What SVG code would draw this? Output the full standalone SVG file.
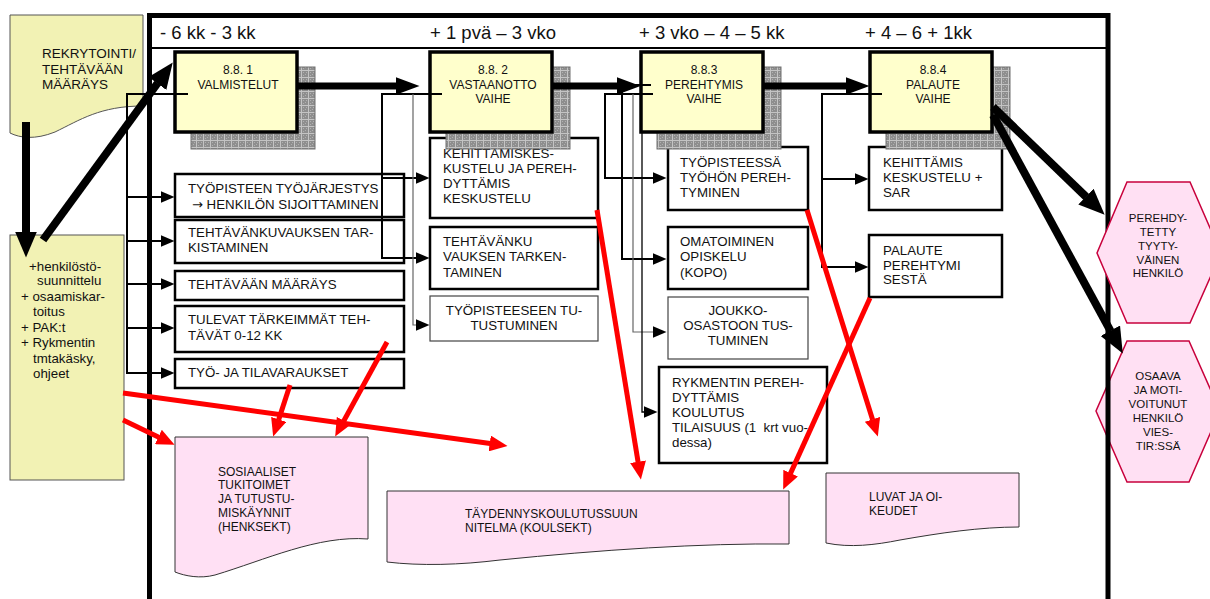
<svg xmlns="http://www.w3.org/2000/svg" width="1210" height="599" viewBox="0 0 1210 599">
<style>
.t{font-family:"Liberation Sans",Arial,sans-serif;fill:#111}
.hdr{font-size:18.5px}
.ph{font-size:12px;text-anchor:middle}
.bx{font-size:13.3px}
.doc{font-size:12px}
.yd{font-size:13.5px}
.hx{font-size:11.5px;text-anchor:middle}
.mid{text-anchor:middle}
.box{fill:#fff;stroke:#000;stroke-width:2.5}
.thin{fill:#fff;stroke:#444;stroke-width:1.2}
.phase{fill:#ffffcc;stroke:#000;stroke-width:3.5}
.shadow{fill:url(#hatch);stroke:#707070;stroke-width:1}
.pdoc{fill:#ffe0f4;stroke:#333;stroke-width:1}
.ydoc{fill:#f2f2b4;stroke:#555;stroke-width:1}
.hex{fill:#ffe0f3;stroke:#c8003c;stroke-width:1.5}
.c{fill:none;stroke:#000;stroke-width:2}
.cg{fill:none;stroke:#666;stroke-width:1.2}
.red{fill:none;stroke:#f00;stroke-width:5}
.fat{fill:none;stroke:#000;stroke-width:7}
.fat8{fill:none;stroke:#000;stroke-width:8}
</style>
<defs>
<pattern id="hatch" width="7" height="7" patternUnits="userSpaceOnUse">
<rect width="7" height="7" fill="#8e8e8e"/>
<path d="M0,0.5H7M0.5,0V7" stroke="#c4c4c4" stroke-width="1"/>
<path d="M2,2h1v1h-1zM4,4h1v1h-1zM2,5h1v1h-1zM5,2h1v1h-1z" fill="#b0b0b0"/>
</pattern>
<marker id="ah" markerUnits="userSpaceOnUse" markerWidth="14" markerHeight="12" refX="0.5" refY="6" orient="auto"><path d="M0,0L14,6L0,12z" fill="#000"/></marker>
<marker id="big" markerUnits="userSpaceOnUse" markerWidth="24" markerHeight="18" refX="0.5" refY="9" orient="auto"><path d="M0,0L24,9L0,18z" fill="#000"/></marker>
<marker id="diag" markerUnits="userSpaceOnUse" markerWidth="26" markerHeight="22" refX="0.5" refY="11" orient="auto"><path d="M0,0L26,11L0,22z" fill="#000"/></marker>
<marker id="rh" markerUnits="userSpaceOnUse" markerWidth="18" markerHeight="16" refX="0.5" refY="8" orient="auto"><path d="M0,0L18,8L0,16z" fill="#f00"/></marker>
</defs>
<rect width="1210" height="599" fill="#fff"/>

<g id="rekrytointi">
<path class="ydoc" d="M10,15H143V106C100,106 80,120 55,132C35,140 20,138 10,133Z"/>
<text class="t yd" x="42" y="58">REKRYTOINTI/</text>
<text class="t yd" x="42" y="74">TEHTÄVÄÄN</text>
<text class="t yd" x="42" y="89">MÄÄRÄYS</text>
</g>

<g id="resurssit">
<rect class="ydoc" x="10" y="235" width="114" height="245"/>
<text class="t bx" x="29" y="271">+henkilöstö-</text>
<text class="t bx" x="37" y="285">suunnittelu</text>
<text class="t bx" x="21" y="301">+ osaamiskar-</text>
<text class="t bx" x="33" y="316">toitus</text>
<text class="t bx" x="21" y="332">+ PAK:t</text>
<text class="t bx" x="21" y="347">+ Rykmentin</text>
<text class="t bx" x="33" y="363">tmtakäsky,</text>
<text class="t bx" x="33" y="378">ohjeet</text>
</g>

<g id="osaava">
<polygon class="hex" points="1127,341 1189,341 1220,411 1189,482 1127,482 1096,411"/>
<text class="t hx" x="1158" y="380">OSAAVA</text>
<text class="t hx" x="1158" y="394">JA MOTI-</text>
<text class="t hx" x="1158" y="408">VOITUNUT</text>
<text class="t hx" x="1158" y="422">HENKILÖ</text>
<text class="t hx" x="1158" y="436">VIES-</text>
<text class="t hx" x="1158" y="450">TIR:SSÄ</text>
</g>

<g id="frame">
<path d="M149.5,599V15.5H1108V599" fill="none" stroke="#000" stroke-width="5"/>
<path d="M149.5,48H1108" stroke="#000" stroke-width="2"/>
<text class="t hdr" x="160" y="39">- 6 kk - 3 kk</text>
<text class="t hdr" x="430" y="39">+ 1 pvä – 3 vko</text>
<text class="t hdr" x="639" y="39">+ 3 vko – 4 – 5 kk</text>
<text class="t hdr" x="865" y="39">+ 4 – 6 + 1kk</text>
</g>

<g id="perehdytetty">
<polygon class="hex" points="1127,182 1190,182 1221,253 1190,323 1127,323 1097,253"/>
<text class="t hx" x="1158" y="222">PEREHDY-</text>
<text class="t hx" x="1158" y="236">TETTY</text>
<text class="t hx" x="1158" y="250">TYYTY-</text>
<text class="t hx" x="1158" y="264">VÄINEN</text>
<text class="t hx" x="1158" y="277">HENKILÖ</text>
</g>

<g id="b1">
<rect class="box" x="175" y="174" width="229" height="43"/>
<text class="t bx" x="188" y="193">TYÖPISTEEN TYÖJÄRJESTYS</text>
<text class="t bx" x="192" y="209"><tspan style="font-family:'DejaVu Sans',sans-serif;font-size:13px">→</tspan> HENKILÖN SIJOITTAMINEN</text>
</g>
<g id="b2">
<rect class="box" x="175" y="220" width="229" height="43"/>
<text class="t bx" x="188" y="237">TEHTÄVÄNKUVAUKSEN TAR-</text>
<text class="t bx" x="188" y="252">KISTAMINEN</text>
</g>
<g id="b3">
<rect class="box" x="175" y="271" width="229" height="29"/>
<text class="t bx" x="188" y="289">TEHTÄVÄÄN MÄÄRÄYS</text>
</g>
<g id="b4">
<rect class="box" x="175" y="306" width="229" height="46"/>
<text class="t bx" x="188" y="324">TULEVAT TÄRKEIMMÄT TEH-</text>
<text class="t bx" x="188" y="340">TÄVÄT 0-12 KK</text>
</g>
<g id="b5">
<rect class="box" x="175" y="359" width="229" height="29"/>
<text class="t bx" x="188" y="377">TYÖ- JA TILAVARAUKSET</text>
</g>

<g id="m1">
<rect class="box" x="430" y="138" width="168" height="80"/>
<text class="t bx" x="443" y="158">KEHITTÄMISKES-</text>
<text class="t bx" x="443" y="173">KUSTELU JA PEREH-</text>
<text class="t bx" x="443" y="188">DYTTÄMIS</text>
<text class="t bx" x="443" y="203">KESKUSTELU</text>
</g>
<g id="m2">
<rect class="box" x="430" y="227" width="168" height="62"/>
<text class="t bx" x="443" y="246">TEHTÄVÄNKU</text>
<text class="t bx" x="443" y="261">VAUKSEN TARKEN-</text>
<text class="t bx" x="443" y="277">TAMINEN</text>
</g>
<g id="m3">
<rect class="thin" x="430" y="296" width="168" height="45"/>
<text class="t bx mid" x="514" y="315">TYÖPISTEESEEN TU-</text>
<text class="t bx mid" x="514" y="330">TUSTUMINEN</text>
</g>

<g id="t1">
<rect class="box" x="668" y="147" width="140" height="63"/>
<text class="t bx" x="680" y="167">TYÖPISTEESSÄ</text>
<text class="t bx" x="680" y="182">TYÖHÖN PEREH-</text>
<text class="t bx" x="680" y="197">TYMINEN</text>
</g>
<g id="t2">
<rect class="box" x="668" y="227" width="140" height="62"/>
<text class="t bx" x="680" y="246">OMATOIMINEN</text>
<text class="t bx" x="680" y="261">OPISKELU</text>
<text class="t bx" x="680" y="277">(KOPO)</text>
</g>
<g id="t3">
<rect class="thin" x="668" y="297" width="140" height="62"/>
<text class="t bx mid" x="738" y="315">JOUKKO-</text>
<text class="t bx mid" x="738" y="330">OSASTOON TUS-</text>
<text class="t bx mid" x="738" y="345">TUMINEN</text>
</g>
<g id="t4">
<rect class="box" x="659" y="367" width="168" height="96"/>
<text class="t bx" x="672" y="387">RYKMENTIN PEREH-</text>
<text class="t bx" x="672" y="402">DYTTÄMIS</text>
<text class="t bx" x="672" y="417">KOULUTUS</text>
<text class="t bx" x="672" y="432">TILAISUUS (1&#160; krt vuo-</text>
<text class="t bx" x="672" y="447">dessa)</text>
</g>

<g id="f1">
<rect class="box" x="869" y="147" width="133" height="63"/>
<text class="t bx" x="883" y="167">KEHITTÄMIS</text>
<text class="t bx" x="883" y="182">KESKUSTELU +</text>
<text class="t bx" x="883" y="197">SAR</text>
</g>
<g id="f2">
<rect class="box" x="869" y="235" width="133" height="62"/>
<text class="t bx" x="883" y="255">PALAUTE</text>
<text class="t bx" x="883" y="270">PEREHTYMI</text>
<text class="t bx" x="883" y="284">SESTÄ</text>
</g>

<g id="p1">
<rect class="shadow" x="191" y="67" width="124" height="82"/>
<rect class="phase" x="175" y="52" width="122" height="80"/>
<text class="t ph" x="238" y="74">8.8. 1</text>
<text class="t ph" x="238" y="89">VALMISTELUT</text>
</g>
<g id="p2">
<rect class="shadow" x="446" y="67" width="124" height="82"/>
<rect class="phase" x="430" y="52" width="122" height="80"/>
<text class="t ph" x="493" y="74">8.8. 2</text>
<text class="t ph" x="493" y="89">VASTAANOTTO</text>
<text class="t ph" x="493" y="103">VAIHE</text>
</g>
<g id="p3">
<rect class="shadow" x="657" y="67" width="124" height="82"/>
<rect class="phase" x="641" y="52" width="122" height="80"/>
<text class="t ph" x="704" y="74">8.8.3</text>
<text class="t ph" x="704" y="89">PEREHTYMIS</text>
<text class="t ph" x="704" y="103">VAIHE</text>
</g>
<g id="p4">
<rect class="shadow" x="886" y="67" width="124" height="82"/>
<rect class="phase" x="870" y="52" width="122" height="80"/>
<text class="t ph" x="933" y="74">8.8.4</text>
<text class="t ph" x="933" y="89">PALAUTE</text>
<text class="t ph" x="933" y="103">VAIHE</text>
</g>

<g id="d1">
<path class="pdoc" d="M175,437H368V539C318,535 265,560 215,575C200,579 185,576 175,572Z"/>
<text class="t doc" x="218" y="476">SOSIAALISET</text>
<text class="t doc" x="218" y="489">TUKITOIMET</text>
<text class="t doc" x="218" y="503">JA TUTUSTU-</text>
<text class="t doc" x="218" y="517">MISKÄYNNIT</text>
<text class="t doc" x="218" y="531">(HENKSEKT)</text>
</g>
<g id="d2">
<path class="pdoc" d="M387,491H789V544C700,543 600,550 500,560C460,565 420,566 387,562Z"/>
<text class="t doc" x="465" y="518">TÄYDENNYSKOULUTUSSUUN</text>
<text class="t doc" x="465" y="532">NITELMA (KOULSEKT)</text>
</g>
<g id="d3">
<path class="pdoc" d="M826,473H1019V527C980,527 940,533 900,540C875,545 850,548 826,543Z"/>
<text class="t doc" x="869" y="501">LUVAT JA OI-</text>
<text class="t doc" x="869" y="515">KEUDET</text>
</g>

<g id="connectors">
<path class="c" d="M188,94H127V373H161" marker-end="url(#ah)"/>
<path class="c" d="M127,197H161" marker-end="url(#ah)"/>
<path class="c" d="M127,241H161" marker-end="url(#ah)"/>
<path class="c" d="M127,284H161" marker-end="url(#ah)"/>
<path class="c" d="M127,328H161" marker-end="url(#ah)"/>
<path class="c" d="M442,94H382V258H416" marker-end="url(#ah)"/>
<path class="c" d="M382,178H416" marker-end="url(#ah)"/>
<path class="cg" d="M413,94V325H416" marker-end="url(#ah)"/>
<path class="c" d="M653,94H605V178H653" marker-end="url(#ah)"/>
<path class="c" d="M651,85H622V259H653" marker-end="url(#ah)"/>
<path class="cg" d="M633,94V332H653" marker-end="url(#ah)"/>
<path class="c" style="stroke-width:1.3" d="M642,133V412H644" marker-end="url(#ah)"/>
<path class="c" d="M882,94H822V267H855" marker-end="url(#ah)"/>
<path class="c" d="M822,179H855" marker-end="url(#ah)"/>
<path class="fat" d="M298,86H396" marker-end="url(#big)"/>
<path class="fat" d="M552,86H617" marker-end="url(#big)"/>
<path class="fat" d="M763,86H846" marker-end="url(#big)"/>
<path class="fat8" d="M26,122V232" marker-end="url(#diag)"/>
<path class="fat8" d="M43,240L157.7,83" marker-end="url(#diag)"/>
<path class="fat8" d="M993,107L1086.3,197" marker-end="url(#diag)"/>
<path class="fat8" d="M993,115L1110.6,331.2" marker-end="url(#diag)"/>
<path class="red" d="M123,393L490.2,443.5" marker-end="url(#rh)"/>
<path class="red" d="M123,420L158.8,437.2" marker-end="url(#rh)"/>
<path class="red" d="M290,385L278.6,419.9" marker-end="url(#rh)"/>
<path class="red" d="M387,342L343.6,421.2" marker-end="url(#rh)"/>
<path class="red" d="M597,210L638.1,462.2" marker-end="url(#rh)"/>
<path class="red" d="M807,210L872.6,419.8" marker-end="url(#rh)"/>
<path class="red" d="M870,298L790.4,473.6" marker-end="url(#rh)"/>
</g>
</svg>
